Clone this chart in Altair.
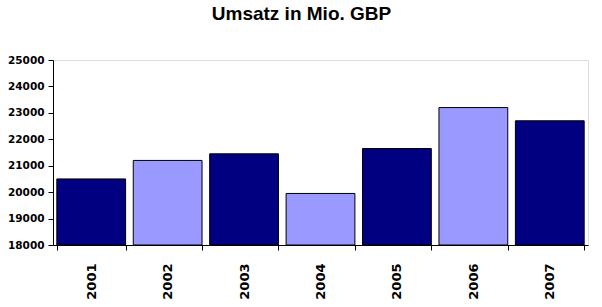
import altair as alt
import pandas as pd

years = ["2001", "2002", "2003", "2004", "2005", "2006", "2007"]
umsatz = [20500, 21200, 21450, 19950, 21650, 23200, 22700]
shade = ["dark", "light", "dark", "light", "dark", "light", "dark"]
basis = 18000

df = pd.DataFrame({"Jahr": years, "Umsatz": umsatz, "Farbe": shade})

chart = alt.Chart(df).mark_bar(stroke="black", strokeWidth=1, clip=True).encode(
    x=alt.X("Jahr:N", title=None, sort=years,
            scale=alt.Scale(paddingInner=0.1, paddingOuter=0.05),
            axis=alt.Axis(labelAngle=-90, labelFont="DejaVu Sans", labelFontWeight="bold",
                          labelFontSize=13, labelColor="black", labelPadding=13,
                          tickBand="extent", tickColor="black", tickSize=5,
                          domainColor="black", labelBaseline="middle")),
    y=alt.Y("Umsatz:Q", title=None,
            scale=alt.Scale(domain=[18000, 25000], nice=False, zero=False),
            axis=alt.Axis(values=list(range(18000, 25001, 1000)), grid=False, format="d",
                          labelFont="DejaVu Sans", labelFontWeight="bold", labelFontSize=10.5,
                          labelColor="black", tickColor="black", tickSize=5,
                          domainColor="black", labelPadding=4)),
    y2=alt.datum(basis),
    color=alt.Color("Farbe:N", legend=None,
                    scale=alt.Scale(domain=["dark", "light"], range=["#000080", "#9999FF"])),
).properties(
    width=535, height=185,
    title=alt.TitleParams("Umsatz in Mio. GBP", font="Liberation Sans", fontSize=19,
                          fontWeight="bold", color="black", offset=31, anchor="middle", dx=-19),
    autosize=alt.AutoSizeParams(type="none"),
    padding={"left": 53, "top": 60, "right": 14, "bottom": 62},
).configure_view(stroke="#808080", strokeWidth=1).configure(background="white")

chart.save("out.html", embed_options={"renderer": "svg", "actions": False})
